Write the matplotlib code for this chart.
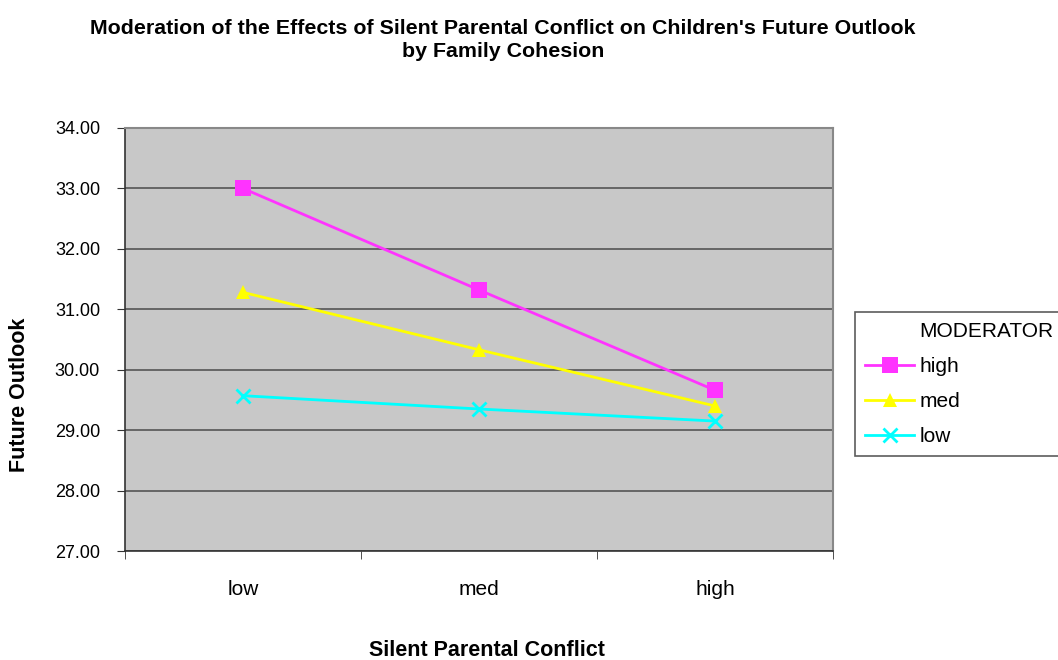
import matplotlib.pyplot as plt
from matplotlib.lines import Line2D
from matplotlib.ticker import FixedLocator, NullFormatter

plt.rcParams['font.family'] = ['Liberation Sans', 'DejaVu Sans']

# data
conflict_levels = ['low', 'med', 'high']
moderator_levels = ['high', 'med', 'low']
outlook_high = [33.00, 31.32, 29.66]
outlook_med = [31.28, 30.33, 29.40]
outlook_low = [29.57, 29.35, 29.15]

series = [outlook_high, outlook_med, outlook_low]
colors = ['#FF33FF', '#FFFF00', '#00FFFF']
markers = ['s', '^', 'x']
msizes = [11, 10, 10]

W, H = 1058, 660
fig = plt.figure(figsize=(W / 100, H / 100), dpi=100)
ax = fig.add_axes([125 / W, 109 / H, 708 / W, 423 / H])
ax.set_facecolor('#C8C8C8')

x = list(range(len(conflict_levels)))
handles = []
for vals, name, c, m, ms in zip(series, moderator_levels, colors, markers, msizes):
    ln, = ax.plot(x, vals, color=c, marker=m, markersize=ms, linewidth=2,
                  markeredgewidth=2 if m == 'x' else 0, label=name, zorder=3)
    handles.append(ln)

ax.set_xlim(-0.5, 2.5)
ax.set_ylim(27, 34)
ax.set_yticks(range(27, 35))
ax.set_yticklabels([f'{v:.2f}' for v in range(27, 35)], fontsize=13)
ax.yaxis.grid(True, color='#555555', linewidth=1.2)
ax.set_axisbelow(True)

# category labels between tick marks, like Excel
ax.set_xticks(x)
ax.set_xticklabels(conflict_levels, fontsize=15)
ax.tick_params(axis='x', which='major', length=0, pad=21)
ax.xaxis.set_minor_locator(FixedLocator([-0.5, 0.5, 1.5, 2.5]))
ax.xaxis.set_minor_formatter(NullFormatter())
ax.tick_params(axis='x', which='minor', length=6, color='#333333')
ax.tick_params(axis='y', length=6, color='#333333', pad=12)

for side in ['top', 'right']:
    ax.spines[side].set_color('#888888')
    ax.spines[side].set_linewidth(1.5)
for side in ['left', 'bottom']:
    ax.spines[side].set_color('#333333')
    ax.spines[side].set_linewidth(1.2)

fig.text(487 / W, 1 - 650 / H, 'Silent Parental Conflict', fontsize=15.5,
         fontweight='bold', ha='center', va='center')
fig.text(20 / W, 1 - 395 / H, 'Future Outlook', fontsize=15.5,
         fontweight='bold', ha='center', va='center', rotation=90)

fig.text(503 / W, 1 - 40 / H,
         "Moderation of the Effects of Silent Parental Conflict on Children's Future Outlook\nby Family Cohesion",
         fontsize=15.4, fontweight='bold', ha='center', va='center', linespacing=1.3)

# legend title sits in line with the entry labels
title_handle = Line2D([], [], linestyle='none')
leg = fig.legend([title_handle] + handles, ['MODERATOR'] + moderator_levels,
                 loc='upper left', bbox_to_anchor=(855 / W, 1 - 312 / H),
                 bbox_transform=fig.transFigure, borderaxespad=0,
                 fontsize=15, frameon=True, fancybox=False, edgecolor='#333333',
                 borderpad=0.5, handlelength=2.35, handletextpad=0.25,
                 labelspacing=0.76)
leg.get_frame().set_linewidth(1.2)

fig.savefig('out.png', dpi=100)
